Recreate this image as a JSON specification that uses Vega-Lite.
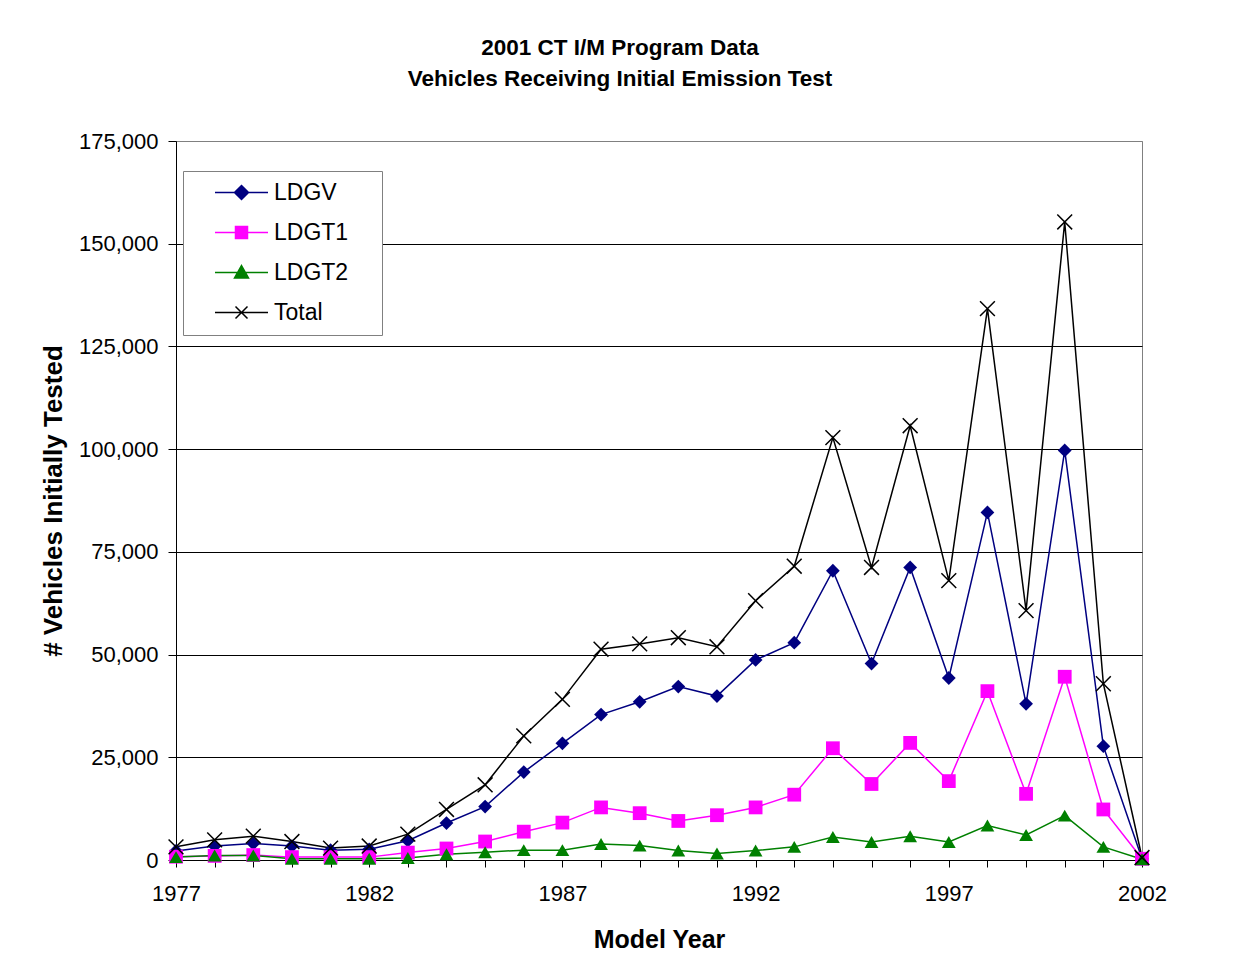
{
  "$schema": "https://vega.github.io/schema/vega-lite/v6.json",
  "width": 966,
  "height": 719,
  "autosize": {"type": "none"},
  "padding": {"left": 176, "top": 141, "right": 91, "bottom": 118},
  "background": "white",
  "title": {
    "text": ["2001 CT I/M Program Data", "Vehicles Receiving Initial Emission Test"],
    "font": "Liberation Sans",
    "fontSize": 22.5,
    "fontWeight": "bold",
    "color": "black",
    "anchor": "middle",
    "dx": -39,
    "offset": 40,
    "lineHeight": 31
  },
  "config": {
    "font": "Liberation Sans",
    "view": {"stroke": "#808080", "strokeWidth": 1}
  },
  "data": {
    "values": [
      {"Year": 1977, "LDGV": 2200, "LDGT1": 800, "LDGT2": 700, "Total": 3200},
      {"Year": 1978, "LDGV": 3400, "LDGT1": 1000, "LDGT2": 1100, "Total": 4900},
      {"Year": 1979, "LDGV": 4000, "LDGT1": 1200, "LDGT2": 1100, "Total": 5800},
      {"Year": 1980, "LDGV": 3400, "LDGT1": 700, "LDGT2": 300, "Total": 4500},
      {"Year": 1981, "LDGV": 2400, "LDGT1": 700, "LDGT2": 300, "Total": 2900},
      {"Year": 1982, "LDGV": 2600, "LDGT1": 700, "LDGT2": 300, "Total": 3400},
      {"Year": 1983, "LDGV": 4700, "LDGT1": 1800, "LDGT2": 500, "Total": 6300},
      {"Year": 1984, "LDGV": 9000, "LDGT1": 2800, "LDGT2": 1400, "Total": 12300},
      {"Year": 1985, "LDGV": 13000, "LDGT1": 4500, "LDGT2": 1900, "Total": 18300},
      {"Year": 1986, "LDGV": 21400, "LDGT1": 6900, "LDGT2": 2400, "Total": 30200},
      {"Year": 1987, "LDGV": 28400, "LDGT1": 9100, "LDGT2": 2400, "Total": 39100},
      {"Year": 1988, "LDGV": 35400, "LDGT1": 12800, "LDGT2": 3900, "Total": 51300},
      {"Year": 1989, "LDGV": 38500, "LDGT1": 11400, "LDGT2": 3500, "Total": 52600},
      {"Year": 1990, "LDGV": 42200, "LDGT1": 9500, "LDGT2": 2300, "Total": 54100},
      {"Year": 1991, "LDGV": 39900, "LDGT1": 10900, "LDGT2": 1600, "Total": 51900},
      {"Year": 1992, "LDGV": 48700, "LDGT1": 12800, "LDGT2": 2300, "Total": 63100},
      {"Year": 1993, "LDGV": 52900, "LDGT1": 15900, "LDGT2": 3200, "Total": 71500},
      {"Year": 1994, "LDGV": 70400, "LDGT1": 27200, "LDGT2": 5600, "Total": 102800},
      {"Year": 1995, "LDGV": 47800, "LDGT1": 18500, "LDGT2": 4400, "Total": 71200},
      {"Year": 1996, "LDGV": 71200, "LDGT1": 28500, "LDGT2": 5800, "Total": 105700},
      {"Year": 1997, "LDGV": 44300, "LDGT1": 19200, "LDGT2": 4400, "Total": 68000},
      {"Year": 1998, "LDGV": 84600, "LDGT1": 41100, "LDGT2": 8400, "Total": 134200},
      {"Year": 1999, "LDGV": 38000, "LDGT1": 16100, "LDGT2": 6100, "Total": 60700},
      {"Year": 2000, "LDGV": 99700, "LDGT1": 44600, "LDGT2": 10800, "Total": 155300},
      {"Year": 2001, "LDGV": 27700, "LDGT1": 12300, "LDGT2": 3200, "Total": 42900},
      {"Year": 2002, "LDGV": 300, "LDGT1": 300, "LDGT2": 200, "Total": 600}
    ]
  },
  "transform": [{"fold": ["LDGV", "LDGT1", "LDGT2", "Total"], "as": ["series", "value"]}],
  "encoding": {
    "x": {
      "field": "Year",
      "type": "quantitative",
      "scale": {"domain": [1977, 2002], "nice": false, "zero": false},
      "axis": {
        "title": "Model Year",
        "values": [1977, 1978, 1979, 1980, 1981, 1982, 1983, 1984, 1985, 1986, 1987, 1988, 1989, 1990, 1991, 1992, 1993, 1994, 1995, 1996, 1997, 1998, 1999, 2000, 2001, 2002],
        "format": "d",
        "labelExpr": "datum.value % 5 == 2 ? datum.label : ''",
        "grid": false,
        "tickSize": 7,
        "tickColor": "black",
        "domainColor": "black",
        "labelFontSize": 22,
        "labelColor": "black",
        "labelPadding": 16,
        "labelFlush": false,
        "labelOverlap": false,
        "titleFontSize": 25,
        "titleFontWeight": "bold",
        "titleColor": "black",
        "titlePadding": 23
      }
    },
    "y": {
      "field": "value",
      "type": "quantitative",
      "scale": {"domain": [0, 175000], "nice": false},
      "axis": {
        "title": "# Vehicles Initially Tested",
        "values": [0, 25000, 50000, 75000, 100000, 125000, 150000, 175000],
        "format": ",d",
        "grid": true,
        "gridColor": {"condition": {"test": "datum.value >= 175000", "value": "#808080"}, "value": "black"},
        "gridWidth": 1,
        "tickSize": 8,
        "tickColor": "black",
        "domainColor": "black",
        "labelFontSize": 22,
        "labelColor": "black",
        "labelPadding": 10,
        "titleFontSize": 26,
        "titleFontWeight": "bold",
        "titleColor": "black",
        "titlePadding": 12
      }
    }
  },
  "layer": [
    {
      "mark": {"type": "line", "strokeWidth": 1.5},
      "encoding": {
        "color": {
          "field": "series",
          "type": "nominal",
          "scale": {"domain": ["LDGV", "LDGT1", "LDGT2", "Total"], "range": ["#000080", "#FF00FF", "#008000", "#000000"]},
          "legend": {
            "title": null,
            "orient": "none",
            "legendX": 7,
            "legendY": 30,
            "direction": "vertical",
            "fillColor": "white",
            "strokeColor": "#808080",
            "padding": 10,
            "labelFontSize": 23,
            "labelColor": "black",
            "labelFont": "Liberation Sans",
            "labelLimit": 300,
            "symbolSize": 100,
            "symbolStrokeWidth": 1.5,
            "symbolOffset": 37,
            "labelOffset": 21,
            "rowPadding": 16,
            "encode": {
              "symbols": {
                "update": {
                  "shape": {"signal": "datum.value === 'LDGV' ? 'M-5.3,0L5.3,0M0,-1.4L1.4,0L0,1.4L-1.4,0ZM25.4,0' : datum.value === 'LDGT1' ? 'M-5.3,0L5.3,0M-1.2,-1.2L1.2,-1.2L1.2,1.2L-1.2,1.2ZM25.4,0' : datum.value === 'LDGT2' ? 'M-5.3,0L5.3,0M0,-1.4L1.4,1.1L-1.4,1.1ZM25.4,0' : 'M-5.3,0L5.3,0M-1.2,-1.2L1.2,1.2M-1.2,1.2L1.2,-1.2M25.4,0'"},
                  "fill": {"signal": "datum.value === 'Total' ? 'transparent' : scale('color', datum.value)"},
                  "stroke": {"signal": "scale('color', datum.value)"},
                  "strokeWidth": {"value": 1.5},
                  "opacity": {"value": 1}
                }
              }
            }
          }
        }
      }
    },
    {
      "transform": [{"filter": "datum.series != 'Total'"}],
      "mark": {"type": "point", "filled": true, "size": 190, "opacity": 1},
      "encoding": {
        "shape": {
          "field": "series",
          "type": "nominal",
          "scale": {"domain": ["LDGV", "LDGT1", "LDGT2"], "range": ["diamond", "square", "triangle-up"]},
          "legend": null
        },
        "fill": {
          "field": "series",
          "type": "nominal",
          "scale": {"domain": ["LDGV", "LDGT1", "LDGT2"], "range": ["#000080", "#FF00FF", "#008000"]},
          "legend": null
        }
      }
    },
    {
      "transform": [{"filter": "datum.series == 'Total'"}],
      "mark": {"type": "point", "shape": "M-1,-1L1,1M-1,1L1,-1", "size": 220, "filled": false, "color": "black", "strokeWidth": 1.5, "opacity": 1}
    }
  ]
}
